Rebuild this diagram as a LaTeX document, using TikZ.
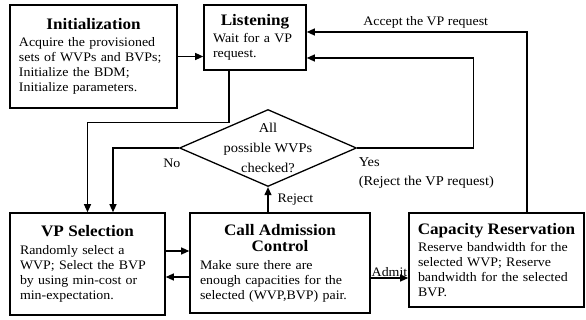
\documentclass[tikz,border=0pt]{standalone}
\usepackage{fontspec}
\setmainfont{Liberation Serif}[FakeStretch=1.07]
\usetikzlibrary{positioning,shapes.geometric,arrows.meta}
\newcommand{\bodyfont}{\fontsize{13}{15}\selectfont}
\newcommand{\titlefont}{\fontsize{16}{18}\selectfont\bfseries}
\newcommand{\boxtitle}[2][2.5pt]{\makebox[\linewidth][c]{\titlefont #2}\\[#1]}

\begin{document}
\begin{tikzpicture}[x=1pt,y=-1pt,
    stage/.style={draw,rectangle,line width=1.6pt,inner xsep=10pt,inner ysep=0pt,align=left,font=\bodyfont},
    check/.style={draw,diamond,line width=1.3pt,inner sep=0pt},
    flow/.style={line width=1.2pt,-{Triangle[length=8pt,width=7pt]}},
    edgetext/.style={font=\bodyfont,inner sep=1pt,align=left}]
    \useasboundingbox (0,0) rectangle (586,320);

    % Initialization
    \node[stage,inner xsep=9pt,text width=149pt,minimum height=103pt] (init) at (93.5,56.5)
        {\boxtitle{Initialization}Acquire the provisioned\\sets of WVPs and BVPs;\\Initialize the BDM;\\Initialize parameters.};

    % Listening
    \node[stage,inner xsep=9pt,text width=84pt,minimum height=65pt] (listen) at (255,37.5)
        {\boxtitle{Listening}Wait for a VP\\request.};

    % Decision
    \node[check,minimum width=177pt,minimum height=77pt,
        label={[font=\fontsize{13.5}{20}\selectfont,align=center]center:All\\possible WVPs\\checked?}] (dec) at (268,148) {};

    % VP Selection
    \node[stage,text width=135pt,minimum height=102pt] (vpsel) at (87.5,264)
        {\boxtitle{VP Selection}Randomly select a\\WVP; Select the BVP\\by using min-cost or\\min-expectation.};

    % Call Admission Control
    \node[stage,text width=160pt,minimum height=100pt] (cac) at (280,263)
        {\boxtitle[1pt]{Call Admission}\boxtitle[3pt]{Control}Make sure there are\\enough capacities for the\\selected (WVP,BVP) pair.};

    % Capacity Reservation
    \node[stage,inner xsep=9pt,text width=157pt,minimum height=94pt] (capres) at (496.5,260)
        {\boxtitle{Capacity Reservation}Reserve bandwidth for the\\selected WVP; Reserve\\bandwidth for the selected\\BVP.};

    % Connectors
    \draw[flow] (init.east) -- (init.east -| listen.west);
    \draw[flow] ([xshift=30.5pt]capres.north) |- node[pos=0.73,above,font=\bodyfont] (acclbl) {Accept the VP request} ([yshift=5.5pt]listen.east);
    \draw[flow] (dec.east) node[edgetext,anchor=north west,yshift=-8pt,font=\fontsize{13.5}{19}\selectfont] (yeslbl) {Yes\\(Reject the VP request)}
        -- ++(116,0) |- ([yshift=-20.5pt]listen.east);
    \draw[flow] (dec.west) node[edgetext,anchor=north east,xshift=3pt,yshift=-9pt] (nolbl) {No} -| ([xshift=25.5pt]vpsel.north);
    \draw[flow] ([xshift=-26pt]listen.south) -- ++(0,52) -| (vpsel.north);
    \draw[flow] ([yshift=13pt]vpsel.east) -- ([yshift=12pt]cac.west);
    \draw[flow] ([yshift=-14pt]cac.west) -- ([yshift=-13pt]vpsel.east);
    \draw[flow] (dec.south |- cac.north) -- node[edgetext,right,xshift=8pt] (rejlbl) {Reject} (dec.south);
    \draw[flow] ([yshift=-15pt]cac.east) -- node[edgetext,above] (admlbl) {Admit} ([yshift=-18pt]capres.west);
\end{tikzpicture}
\end{document}
